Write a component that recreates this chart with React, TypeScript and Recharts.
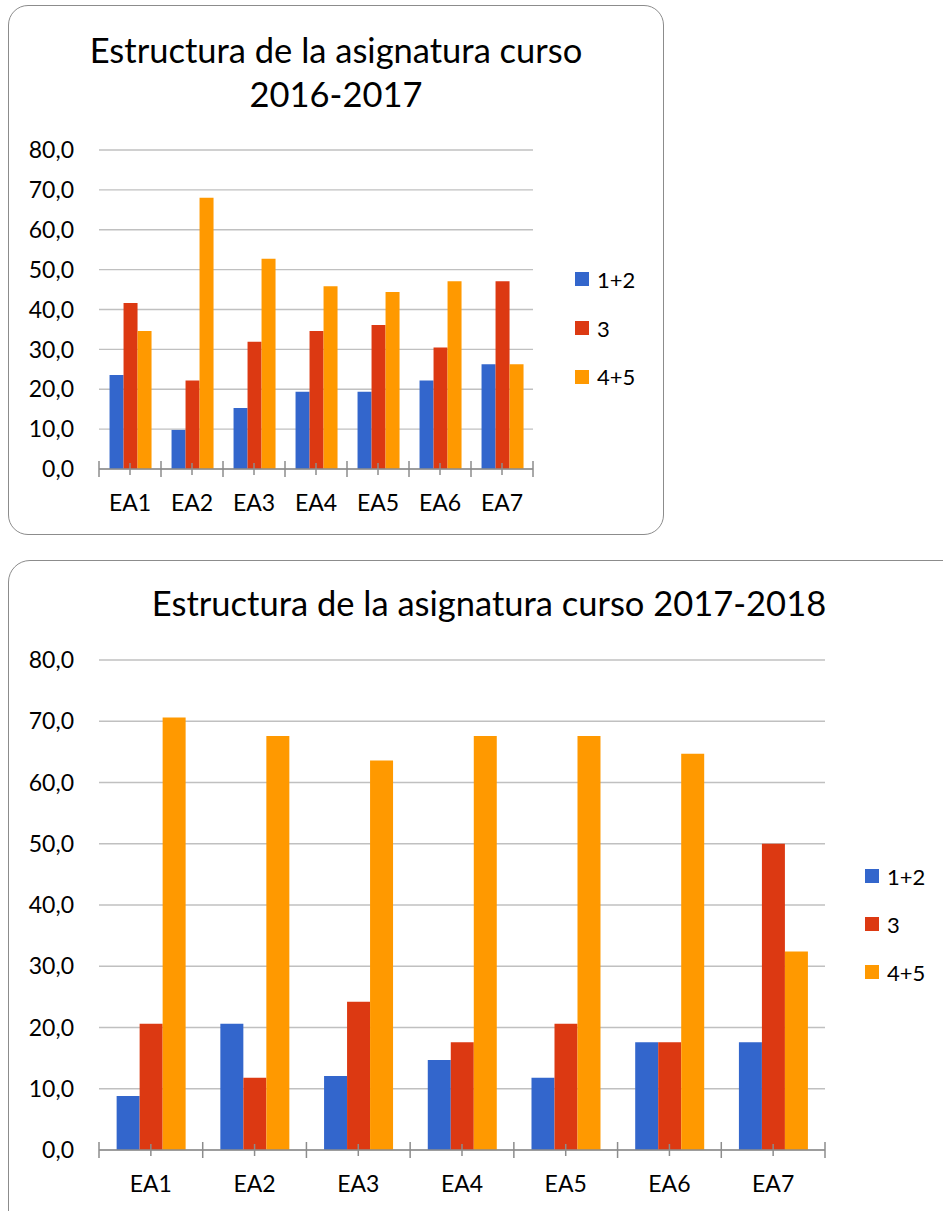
import React from "react";
import { BarChart, Bar, XAxis, YAxis, CartesianGrid, Legend } from "recharts";

const FONT = "Lato, 'Open Sans', sans-serif";
const COLORS = ["#3366CC", "#DC3912", "#FF9900"];
const SERIES = ["1+2", "3", "4+5"];

const categories = ["EA1", "EA2", "EA3", "EA4", "EA5", "EA6", "EA7"];
const yTicks = [0, 10, 20, 30, 40, 50, 60, 70, 80];

// curso 2016-2017
const g12_2016 = [23.6, 9.8, 15.3, 19.4, 19.4, 22.2, 26.3];
const g3_2016 = [41.6, 22.2, 31.9, 34.6, 36.1, 30.5, 47.1];
const g45_2016 = [34.6, 68.0, 52.7, 45.8, 44.4, 47.1, 26.3];

// curso 2017-2018
const g12_2018 = [8.8, 20.6, 12.1, 14.7, 11.8, 17.6, 17.6];
const g3_2018 = [20.6, 11.8, 24.2, 17.6, 20.6, 17.6, 50.0];
const g45_2018 = [70.6, 67.6, 63.6, 67.6, 67.6, 64.7, 32.4];

const toRows = (a: number[], b: number[], c: number[]) =>
  categories.map((cat, i) => ({ cat, s0: a[i], s1: b[i], s2: c[i] }));

const fmt = (v: number) => v.toFixed(1).replace(".", ",");

type PanelProps = {
  left: number;
  top: number;
  width: number;
  height: number;
  boxHeight: number;
  radius: number;
  title: string[];
  titleTop: number;
  rows: any[];
  margin: { top: number; right: number; bottom: number };
  xHeight: number;
  legendPos: { left: number; top: number; step: number };
};

function Panel(p: PanelProps) {
  const plotW = p.width - 91 - p.margin.right;
  const bw = plotW / categories.length;

  const renderXTick = (t: any) => {
    const { x, y, index } = t;
    const last = index === categories.length - 1;
    return (
      <g>
        <line x1={x} x2={x} y1={y - 6} y2={y + 6} stroke="#8c8c8c" strokeWidth={1.5} />
        <line x1={x - bw / 2} x2={x - bw / 2} y1={y - 8} y2={y + 8} stroke="#8c8c8c" strokeWidth={1.5} />
        {last && (
          <line x1={x + bw / 2} x2={x + bw / 2} y1={y - 8} y2={y + 8} stroke="#8c8c8c" strokeWidth={1.5} />
        )}
        <text x={x} y={y + 34} dy="0.355em" textAnchor="middle" fontFamily={FONT} fontSize={23} fill="#000">
          {t.payload.value}
        </text>
      </g>
    );
  };

  return (
    <>
      <div
        style={{
          position: "absolute",
          left: p.left,
          top: p.top,
          width: p.width,
          height: p.boxHeight,
          border: "1.5px solid #8c8c8c",
          borderRadius: p.radius,
          boxSizing: "border-box",
          background: "#fff",
        }}
      />
      <div
        style={{
          position: "absolute",
          left: p.left,
          top: p.titleTop,
          width: p.width,
          textAlign: "center",
          fontFamily: FONT,
          fontSize: 34.5,
          lineHeight: "44px",
          color: "#000",
        }}
      >
        {p.title.map((t) => (
          <div key={t}>{t}</div>
        ))}
      </div>
      <div style={{ position: "absolute", left: p.left, top: p.top }}>
        <BarChart
          width={p.width}
          height={p.height}
          data={p.rows}
          margin={{ top: p.margin.top, right: p.margin.right, bottom: p.margin.bottom, left: 0 }}
          barCategoryGap="17%"
          barGap={0}
        >
          <CartesianGrid vertical={false} stroke="#c0c0c0" strokeWidth={1.4} />
          <XAxis
            dataKey="cat"
            interval={0}
            height={p.xHeight}
            tickLine={false}
            tickSize={0}
            tickMargin={0}
            axisLine={{ stroke: "#8c8c8c", strokeWidth: 1.5 }}
            tick={renderXTick}
          />
          <YAxis
            width={91}
            domain={[0, 80]}
            ticks={yTicks}
            interval={0}
            axisLine={false}
            tickLine={false}
            tickSize={0}
            tickMargin={25}
            tickFormatter={fmt}
            tick={{ fill: "#000", fontSize: 23, fontFamily: FONT }}
          />
          <Legend
            layout="vertical"
            align="center"
            verticalAlign="middle"
            wrapperStyle={{ left: p.legendPos.left, top: p.legendPos.top, width: 120 }}
            content={(lp: any) => (
              <div style={{ fontFamily: FONT, fontSize: 22, color: "#000" }}>
                {(lp.payload || []).map((e: any) => (
                  <div
                    key={e.value}
                    style={{ display: "flex", alignItems: "center", height: p.legendPos.step }}
                  >
                    <span
                      style={{
                        display: "inline-block",
                        width: 14,
                        height: 14,
                        background: e.color,
                        marginRight: 8,
                      }}
                    />
                    {e.value}
                  </div>
                ))}
              </div>
            )}
          />
          {SERIES.map((name, i) => (
            <Bar key={name} dataKey={`s${i}`} name={name} fill={COLORS[i]} isAnimationActive={false} />
          ))}
        </BarChart>
      </div>
    </>
  );
}

export default function App() {
  return (
    <div
      style={{
        position: "fixed",
        left: 0,
        top: 0,
        width: 943,
        height: 1211,
        overflow: "hidden",
        background: "#fff",
      }}
    >
      <Panel
        left={8}
        top={5}
        width={656}
        height={530}
        boxHeight={530}
        radius={20}
        title={["Estructura de la asignatura curso", "2016-2017"]}
        titleTop={27.7}
        rows={toRows(g12_2016, g3_2016, g45_2016)}
        margin={{ top: 145, right: 131, bottom: 0 }}
        xHeight={66}
        legendPos={{ left: 567, top: 250, step: 48.7 }}
      />
      <Panel
        left={8}
        top={560}
        width={962}
        height={651}
        boxHeight={720}
        radius={22}
        title={["Estructura de la asignatura curso 2017-2018"]}
        titleTop={580.5}
        rows={toRows(g12_2018, g3_2018, g45_2018)}
        margin={{ top: 100, right: 145, bottom: 0 }}
        xHeight={61}
        legendPos={{ left: 857, top: 292, step: 48 }}
      />
    </div>
  );
}
